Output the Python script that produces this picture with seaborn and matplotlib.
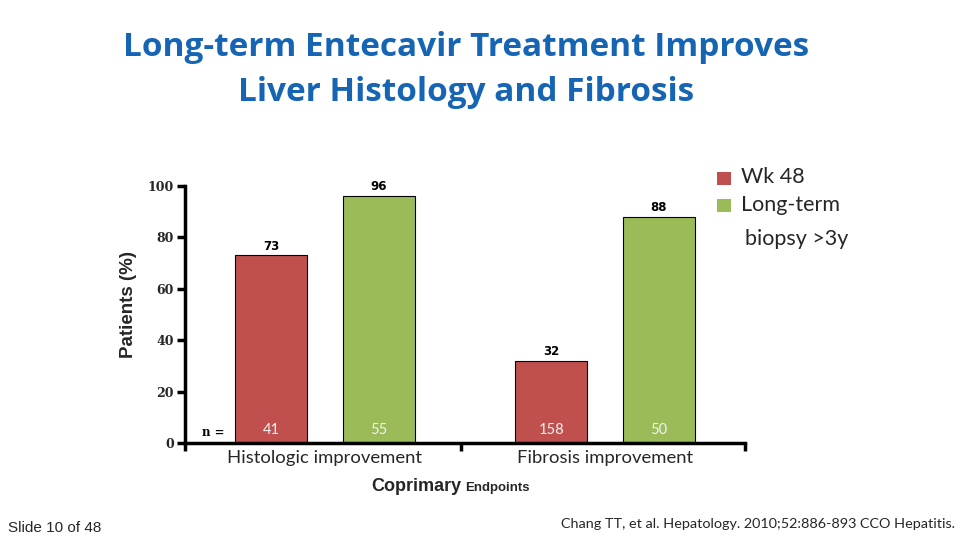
import matplotlib
matplotlib.use("Agg")
import matplotlib.pyplot as plt
import seaborn as sns
import pandas as pd
from matplotlib.patches import Rectangle

categories = ["Histologic improvement", "Fibrosis improvement"]
series = ["Wk 48", "Long-term biopsy >3y"]
wk48 = [73, 32]
longterm = [96, 88]
n_wk48 = [41, 158]
n_longterm = [55, 50]
yticks = [0, 20, 40, 60, 80, 100]

red = "#C0504D"
green = "#9BBB59"

rows = []
for i, c in enumerate(categories):
    rows.append({"cat": c, "series": series[0], "val": wk48[i], "n": n_wk48[i]})
    rows.append({"cat": c, "series": series[1], "val": longterm[i], "n": n_longterm[i]})
df = pd.DataFrame(rows)

sns.set_theme(style="white")
fig = plt.figure(figsize=(9.6, 5.4), dpi=100)
ax = fig.add_axes([0.1927, 0.1796, 0.5833, 0.476])

sns.barplot(data=df, x="cat", y="val", hue="series", order=categories,
            hue_order=series, palette=[red, green], width=0.77, gap=0.33,
            edgecolor="black", linewidth=0.8, saturation=1, ax=ax, legend=False)

ax.set_xlim(-0.5, 1.5)
ax.set_ylim(0, 100)
ax.set_yticks(yticks)
ax.set_yticklabels([str(t) for t in yticks], family="DejaVu Serif",
                   fontweight="bold", fontsize=9)
ax.set_xticks([0, 1])
ax.set_xticklabels(categories, family="Lato", fontsize=13.3)
ax.set_xticks([-0.5, 0.485, 1.5], minor=True)
ax.tick_params(axis="x", which="major", length=0, pad=5)
ax.tick_params(axis="x", which="minor", length=6, width=2.5, color="black",
               direction="out", bottom=True)
ax.tick_params(axis="y", length=6, width=2.5, color="black", direction="out",
               left=True, pad=2)
for s in ["top", "right"]:
    ax.spines[s].set_visible(False)
for s in ["left", "bottom"]:
    ax.spines[s].set_linewidth(2.5)
    ax.spines[s].set_color("black")
ax.set_xlabel("")
ax.set_ylabel("Patients (%)", family="Liberation Sans", fontweight="bold",
              fontsize=13.5)
ax.yaxis.set_label_coords(-0.085, 0.537)

for cont, nvals in zip(ax.containers, [n_wk48, n_longterm]):
    for bar, nv in zip(cont, nvals):
        x = bar.get_x() + bar.get_width() / 2
        h = bar.get_height()
        ax.annotate(f"{h:.0f}", (x, h), xytext=(0, 2), textcoords="offset points",
                    ha="center", va="bottom", fontsize=8.5, fontweight="bold",
                    family="DejaVu Sans", color="black")
        ax.text(x, 2.5, str(nv), ha="center", va="bottom", fontsize=10.5,
                family="Lato", color="#F2F2F2")

ax.text(-0.44, 1.5, "n =", ha="left", va="bottom", fontsize=8.5,
        fontweight="bold", family="DejaVu Serif", color="black")

fig.text(0.486, 0.87, "Long-term Entecavir Treatment Improves\nLiver Histology and Fibrosis",
         ha="center", va="center", fontsize=24, fontweight="bold",
         family="Open Sans", color="#1565B4", linespacing=1.5)

fig.text(0.387, 0.0985, "Coprimary", ha="left", va="center", fontsize=13,
         fontweight="bold", family="Liberation Sans")
fig.text(0.484, 0.0965, "Endpoints", ha="left", va="center", fontsize=9.5,
         fontweight="bold", family="Liberation Sans")

# legend
fig.patches.append(Rectangle((0.747, 0.658), 0.0145, 0.024, transform=fig.transFigure,
                             facecolor=red, edgecolor="none"))
fig.patches.append(Rectangle((0.747, 0.608), 0.0145, 0.024, transform=fig.transFigure,
                             facecolor=green, edgecolor="none"))
fig.text(0.772, 0.672, "Wk 48", ha="left", va="center", fontsize=15.5, family="Lato")
fig.text(0.772, 0.620, "Long-term", ha="left", va="center", fontsize=15.5, family="Lato")
fig.text(0.776, 0.558, "biopsy >3y", ha="left", va="center", fontsize=15.5, family="Lato")

fig.text(0.008, 0.022, "Slide 10 of 48", ha="left", va="center", fontsize=11,
         family="Liberation Sans")
fig.text(0.995, 0.03, "Chang TT, et al. Hepatology. 2010;52:886-893 CCO Hepatitis.",
         ha="right", va="center", fontsize=10.4, family="Lato")

fig.savefig("out.png", dpi=100)
